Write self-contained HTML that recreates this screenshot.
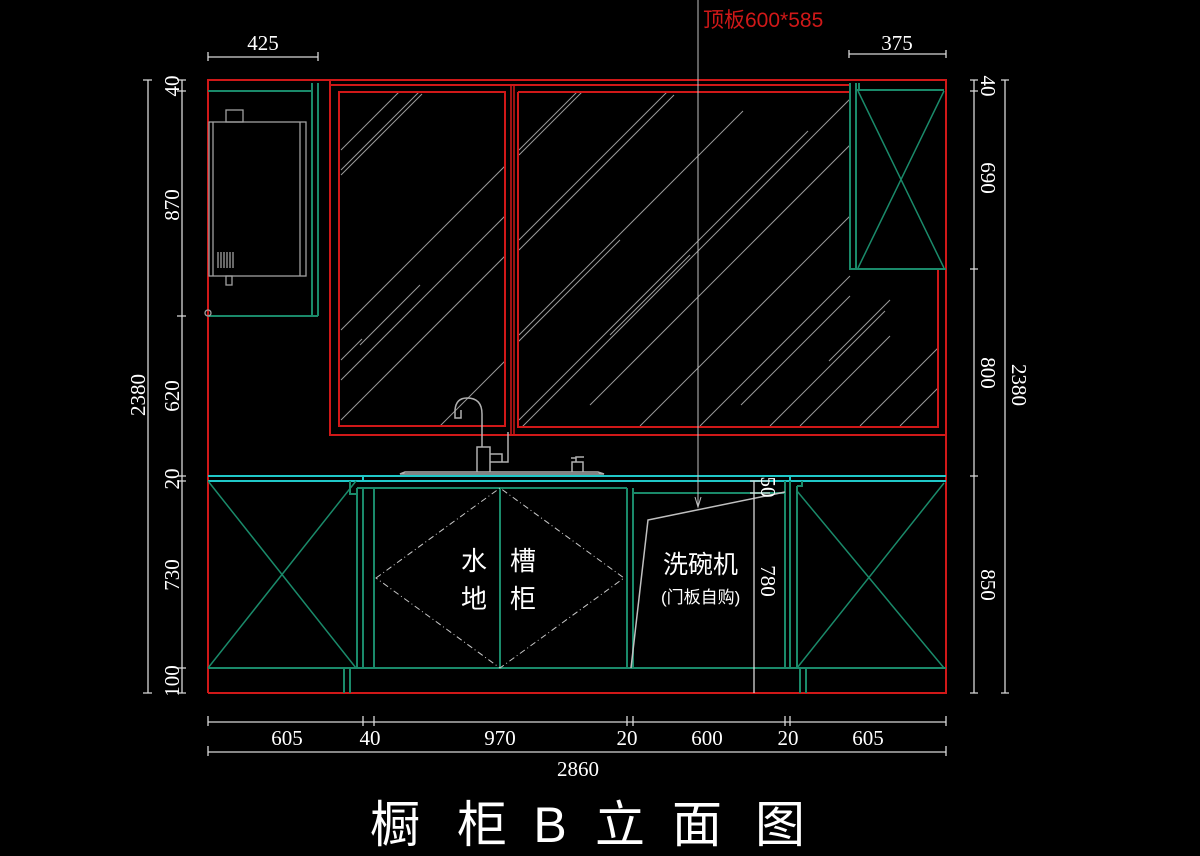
<!DOCTYPE html>
<html><head><meta charset="utf-8"><style>
html,body{margin:0;padding:0;background:#000;}
svg{display:block}
text{font-family:"Liberation Sans","Noto Sans CJK SC",sans-serif;fill:#fff}
.d{font-family:"Liberation Serif","Noto Sans CJK SC",serif;font-size:21px;fill:#fff}
</style></head><body>
<svg width="1200" height="856" viewBox="0 0 1200 856" xmlns="http://www.w3.org/2000/svg">
<rect width="1200" height="856" fill="#000"/>
<defs>
<clipPath id="cl"><rect x="340" y="93" width="164" height="332"/></clipPath>
<clipPath id="cr"><rect x="519" y="93" width="330" height="333"/><rect x="519" y="270" width="418" height="156"/></clipPath>
</defs>
<g fill="none" stroke-width="2">
<path d="M208,693 V80 H946 V693 H208" stroke="#d01818"/>
<path d="M330,80 V435 H946" stroke="#d01818"/>
<path d="M330,85 H850" stroke="#d01818"/>
<path d="M511,85 V435 M514,85 V435" stroke="#d01818" stroke-width="1.5"/>
<rect x="339" y="92" width="166" height="334" stroke="#d01818"/>
<path d="M518,92 H850 M518,92 V427 H938 V269" stroke="#d01818"/>
<g stroke="#9a9a9a" stroke-width="1" clip-path="url(#cl)">
<path d="M341,150 L400,91 M341,170 L420,91 M341,175 L422,94 M341,330 L510,161 M341,380 L510,211 M341,420 L510,251 M360,345 L420,285 M440,426 L510,356 M341,360 L362,339"/>
</g>
<g stroke="#9a9a9a" stroke-width="1" clip-path="url(#cr)">
<path d="M519,150 L578,91 M519,155 L583,91 M519,240 L668,91 M519,250 L674,95 M519,335 L743,111 M519,420 L808,131 M519,430 L850,99 M590,405 L870,125 M610,335 L690,255 M640,426 L850,216 M700,426 L850,276 M741,405 L850,296 M770,426 L885,311 M800,426 L890,336 M829,361 L890,300 M860,426 L938,348 M900,426 L938,388 M505,355 L620,240"/>
</g>
<path d="M208,91 H312 M312,83 V316 M318,83 V316 M208,316 H318" stroke="#1a8a6a"/>
<g stroke="#a0a0a0" stroke-width="1.3">
<rect x="209" y="122" width="97" height="154"/>
<path d="M213,122 V276 M300,122 V276"/>
<rect x="226" y="110" width="17" height="12"/>
<rect x="226" y="276" width="6" height="9"/>
<path d="M218,252 V268 M221,252 V268 M224,252 V268 M227,252 V268 M230,252 V268 M233,252 V268"/>
<circle cx="208" cy="313" r="3"/>
</g>
<path d="M850,83 V269 H946 M856,83 V269 M856,90 H944 M859,83 V90" stroke="#1a8a6a"/>
<path d="M858,91 L944,268 M944,91 L858,268" stroke="#1a8a6a" stroke-width="1.5"/>
<path d="M208,476 H946 M208,481 H946" stroke="#20c8c8"/>
<path d="M363,476 V481 M790,476 V481" stroke="#20c8c8"/>
<g stroke="#b0b0b0" stroke-width="1.5">
<path d="M400,474 L405,472 H598 L604,474 Z"/>
<path d="M477,472 V447 H490 V472 M490,454 H502 V462 H490 M502,462 H508 V432"/>
<path d="M482,447 V414 Q482,398 467,398 Q456,398 455,410 V418 H461 V410"/>
<path d="M572,472 V462 H583 V472 M576,462 V457 H584 M576,458 H571"/>
</g>
<path d="M208,668 H946" stroke="#1a8a6a"/>
<path d="M208,481 L356,668 M356,481 L208,668" stroke="#1a8a6a" stroke-width="1.5"/>
<path d="M350,481 V494 H357 M357,488 H627 M357,488 V668 M363,488 V668 M374,488 V668 M500,488 V668 M627,488 V668 M633,488 V668 M633,493 H785 M785,481 V668 M790,481 V668 M797,486 V668 M797,486 H802 V481" stroke="#1a8a6a"/>
<path d="M797,491 L944,668 M944,483 L797,668" stroke="#1a8a6a" stroke-width="1.5"/>
<path d="M344,668 V693 M350,668 V693 M800,668 V693 M806,668 V693" stroke="#1a8a6a"/>
<path d="M376,578 L500,488 L624,578 L500,668 Z" stroke="#c8c8c8" stroke-width="1" stroke-dasharray="6,3,1,3"/>
<path d="M785,492 L648,520 L631,668" stroke="#c0c0c0" stroke-width="1.5"/>
<path d="M698,0 V505" stroke="#c0c0c0" stroke-width="1"/>
<path d="M695,497 L698,507 L701,497" stroke="#c0c0c0" stroke-width="1"/>
<g stroke="#d8d8d8" stroke-width="1.3">
<path d="M148,80 V693 M143,80 H152 M143,693 H152"/>
<path d="M182,80 V693 M177,80 H186 M177,91 H186 M177,316 H186 M177,476 H186 M177,481 H186 M177,668 H186 M177,693 H186"/>
<path d="M974,80 V693 M970,80 H978 M970,91 H978 M970,269 H978 M970,476 H978 M970,693 H978"/>
<path d="M1005,80 V693 M1001,80 H1009 M1001,693 H1009"/>
<path d="M208,57 H318 M208,52 V61 M318,52 V61"/>
<path d="M849,54 H946 M849,50 V58 M946,50 V58"/>
<path d="M208,722 H946 M208,716 V726 M363,716 V726 M374,716 V726 M627,716 V726 M633,716 V726 M785,716 V726 M790,716 V726 M946,716 V726"/>
<path d="M208,752 H946 M208,746 V756 M946,746 V756"/>
<path d="M754,481 V693 M750,481 H770 M750,493 H770"/>
</g>
</g>
<g class="d" text-anchor="middle">
<text x="263" y="50" class="d">425</text>
<text x="897" y="50" class="d">375</text>
<text x="287" y="745" class="d">605</text>
<text x="370" y="745" class="d">40</text>
<text x="500" y="745" class="d">970</text>
<text x="627" y="745" class="d">20</text>
<text x="707" y="745" class="d">600</text>
<text x="788" y="745" class="d">20</text>
<text x="868" y="745" class="d">605</text>
<text x="578" y="776" class="d">2860</text>
<text transform="translate(179,86) rotate(-90)" class="d">40</text>
<text transform="translate(179,205) rotate(-90)" class="d">870</text>
<text transform="translate(179,396) rotate(-90)" class="d">620</text>
<text transform="translate(179,479) rotate(-90)" class="d">20</text>
<text transform="translate(179,575) rotate(-90)" class="d">730</text>
<text transform="translate(179,681) rotate(-90)" class="d">100</text>
<text transform="translate(145,395) rotate(-90)" class="d">2380</text>
<text transform="translate(981,86) rotate(90)" class="d">40</text>
<text transform="translate(981,178) rotate(90)" class="d">690</text>
<text transform="translate(981,373) rotate(90)" class="d">800</text>
<text transform="translate(981,585) rotate(90)" class="d">850</text>
<text transform="translate(1012,385) rotate(90)" class="d">2380</text>
<text transform="translate(761,487) rotate(90)" class="d">50</text>
<text transform="translate(761,581) rotate(90)" class="d">780</text>
</g>
<text x="703" y="27" font-size="21" style="fill:#d01818">顶板600*585</text>
<g font-size="26">
<text x="461" y="570">水</text><text x="510" y="570">槽</text>
<text x="461" y="608">地</text><text x="510" y="608">柜</text>
<text x="663" y="573" font-size="25">洗碗机</text>
<text x="661" y="603" font-size="17">(门板自购)</text>
</g>
<g font-size="50" text-anchor="middle">
<text x="395" y="842">橱</text>
<text x="482" y="842">柜</text>
<text x="550" y="842">B</text>
<text x="620" y="842">立</text>
<text x="697" y="842">面</text>
<text x="780" y="842">图</text>
</g>
</svg>
</body></html>
